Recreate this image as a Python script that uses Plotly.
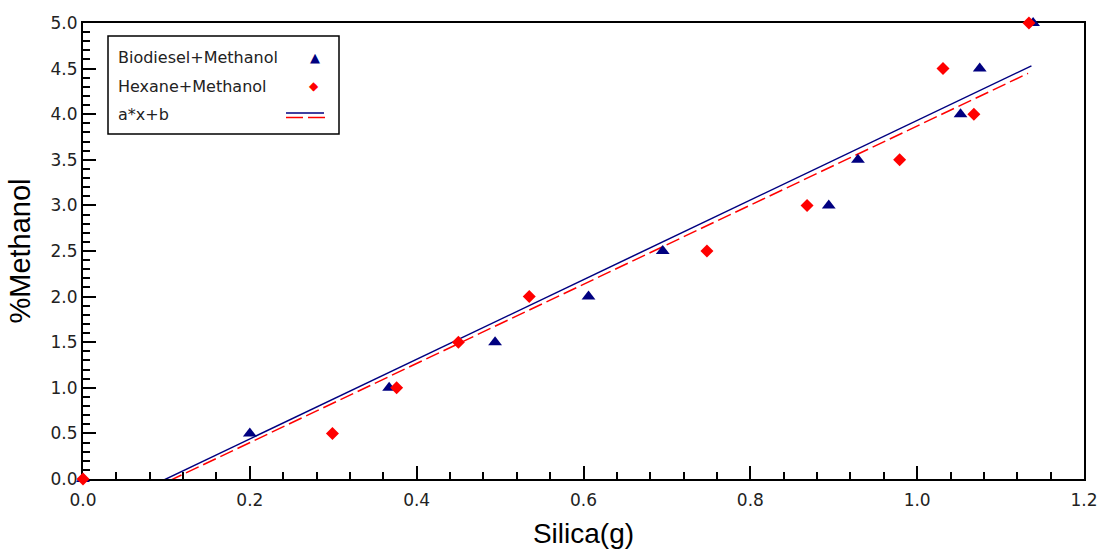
import plotly.graph_objects as go

# ---- data ----
bio_x = [0.0, 0.200, 0.367, 0.494, 0.606, 0.695, 0.894, 0.929, 1.052, 1.075, 1.139]
bio_y = [0.0, 0.5, 1.0, 1.5, 2.0, 2.5, 3.0, 3.5, 4.0, 4.5, 5.0]
hex_x = [0.0, 0.299, 0.376, 0.450, 0.535, 0.748, 0.868, 0.979, 1.068, 1.031, 1.134]
hex_y = [0.0, 0.5, 1.0, 1.5, 2.0, 2.5, 3.0, 3.5, 4.0, 4.5, 5.0]

# fitted lines a*x+b
bio_fit_a, bio_fit_b = 4.366, -0.434
hex_fit_a, hex_fit_b = 4.340, -0.469
bio_fit_x = [0.0, 1.137]
hex_fit_x = [0.0, 1.133]

y_ticks = [0.0, 0.5, 1.0, 1.5, 2.0, 2.5, 3.0, 3.5, 4.0, 4.5, 5.0]
x_ticks = [0.0, 0.2, 0.4, 0.6, 0.8, 1.0, 1.2]

legend_labels = ["Biodiesel+Methanol", "Hexane+Methanol", "a*x+b"]

NAVY = "#000080"
RED = "#FF0000"

fig = go.Figure()

fig.add_trace(go.Scatter(
    x=bio_fit_x, y=[bio_fit_a * v + bio_fit_b for v in bio_fit_x],
    mode="lines", line=dict(color=NAVY, width=1.5), showlegend=False))
fig.add_trace(go.Scatter(
    x=hex_fit_x, y=[hex_fit_a * v + hex_fit_b for v in hex_fit_x],
    mode="lines", line=dict(color=RED, width=1.5, dash="14px,5px"), showlegend=False))
fig.add_trace(go.Scatter(
    x=bio_x, y=bio_y, mode="markers", cliponaxis=False,
    marker=dict(symbol="triangle-up", size=12, color=NAVY), showlegend=False))
fig.add_trace(go.Scatter(
    x=hex_x, y=hex_y, mode="markers", cliponaxis=False,
    marker=dict(symbol="diamond", size=10, color=RED), showlegend=False))

W, H = 1097, 551
L, R, T, B = 83, 13, 23, 72
pw, ph = W - L - R, H - T - B


def px(xp):
    return (xp - L) / pw


def py(yp):
    return (H - B - yp) / ph


tick_font = dict(family="DejaVu Sans", size=17, color="#222222")

fig.update_layout(
    width=W, height=H,
    margin=dict(l=L, r=R, t=T, b=B),
    paper_bgcolor="white", plot_bgcolor="white",
    showlegend=False,
    xaxis=dict(
        range=[0, 1.2], tickvals=x_ticks, ticktext=[f"{v:.1f}" for v in x_ticks],
        ticks="inside", ticklen=13, tickwidth=1.5, tickcolor="black",
        minor=dict(ticks="inside", ticklen=7, tickwidth=1.5, tickcolor="black", dtick=0.04, tick0=0),
        showline=True, linecolor="black", linewidth=2, mirror=True, automargin=False,
        showgrid=False, zeroline=False, tickfont=tick_font, ticklabelstandoff=5,
        ticklabeloverflow="allow", layer="below traces",
        title=dict(text="Silica(g)", font=dict(family="Arial", size=28, color="black"), standoff=14),
    ),
    yaxis=dict(
        range=[0, 5], tickvals=y_ticks, ticktext=[f"{v:.1f}" for v in y_ticks],
        ticks="inside", ticklen=13, tickwidth=1.5, tickcolor="black",
        minor=dict(ticks="inside", ticklen=7, tickwidth=1.5, tickcolor="black", dtick=0.1, tick0=0),
        showline=True, linecolor="black", linewidth=2, mirror=True, automargin=False,
        showgrid=False, zeroline=False, tickfont=tick_font, ticklabeloverflow="allow",
        layer="below traces",
        title=dict(text="%Methanol", font=dict(family="Arial", size=29, color="black"), standoff=11),
    ),
)

# ---- custom legend (text left, symbol right) ----
shapes = [
    dict(type="rect", xref="paper", yref="paper", x0=px(108), x1=px(339), y0=py(134), y1=py(36),
         line=dict(color="black", width=1.5), fillcolor="white", layer="above"),
    dict(type="line", xref="paper", yref="paper", x0=px(286), x1=px(324), y0=py(113), y1=py(113),
         line=dict(color=NAVY, width=1.5), layer="above"),
    dict(type="line", xref="paper", yref="paper", x0=px(286), x1=px(303), y0=py(117.5), y1=py(117.5),
         line=dict(color=RED, width=1.5), layer="above"),
    dict(type="line", xref="paper", yref="paper", x0=px(308), x1=px(325), y0=py(117.5), y1=py(117.5),
         line=dict(color=RED, width=1.5), layer="above"),
]
fig.update_layout(shapes=shapes)

rows_y = [57, 86, 115]
leg_font = dict(family="DejaVu Sans", size=16, color="#222222")
for lab, yy in zip(legend_labels, rows_y):
    fig.add_annotation(x=px(116), y=py(yy), xref="paper", yref="paper", text=lab,
                       showarrow=False, xanchor="left", yanchor="middle", font=leg_font)
fig.add_annotation(x=px(315), y=py(57), xref="paper", yref="paper", text="▲",
                   showarrow=False, xanchor="center", yanchor="middle",
                   font=dict(family="DejaVu Sans", size=13, color=NAVY))
fig.add_annotation(x=px(314), y=py(86), xref="paper", yref="paper", text="◆",
                   showarrow=False, xanchor="center", yanchor="middle",
                   font=dict(family="DejaVu Sans", size=12, color=RED))

fig.write_html("out.html")
